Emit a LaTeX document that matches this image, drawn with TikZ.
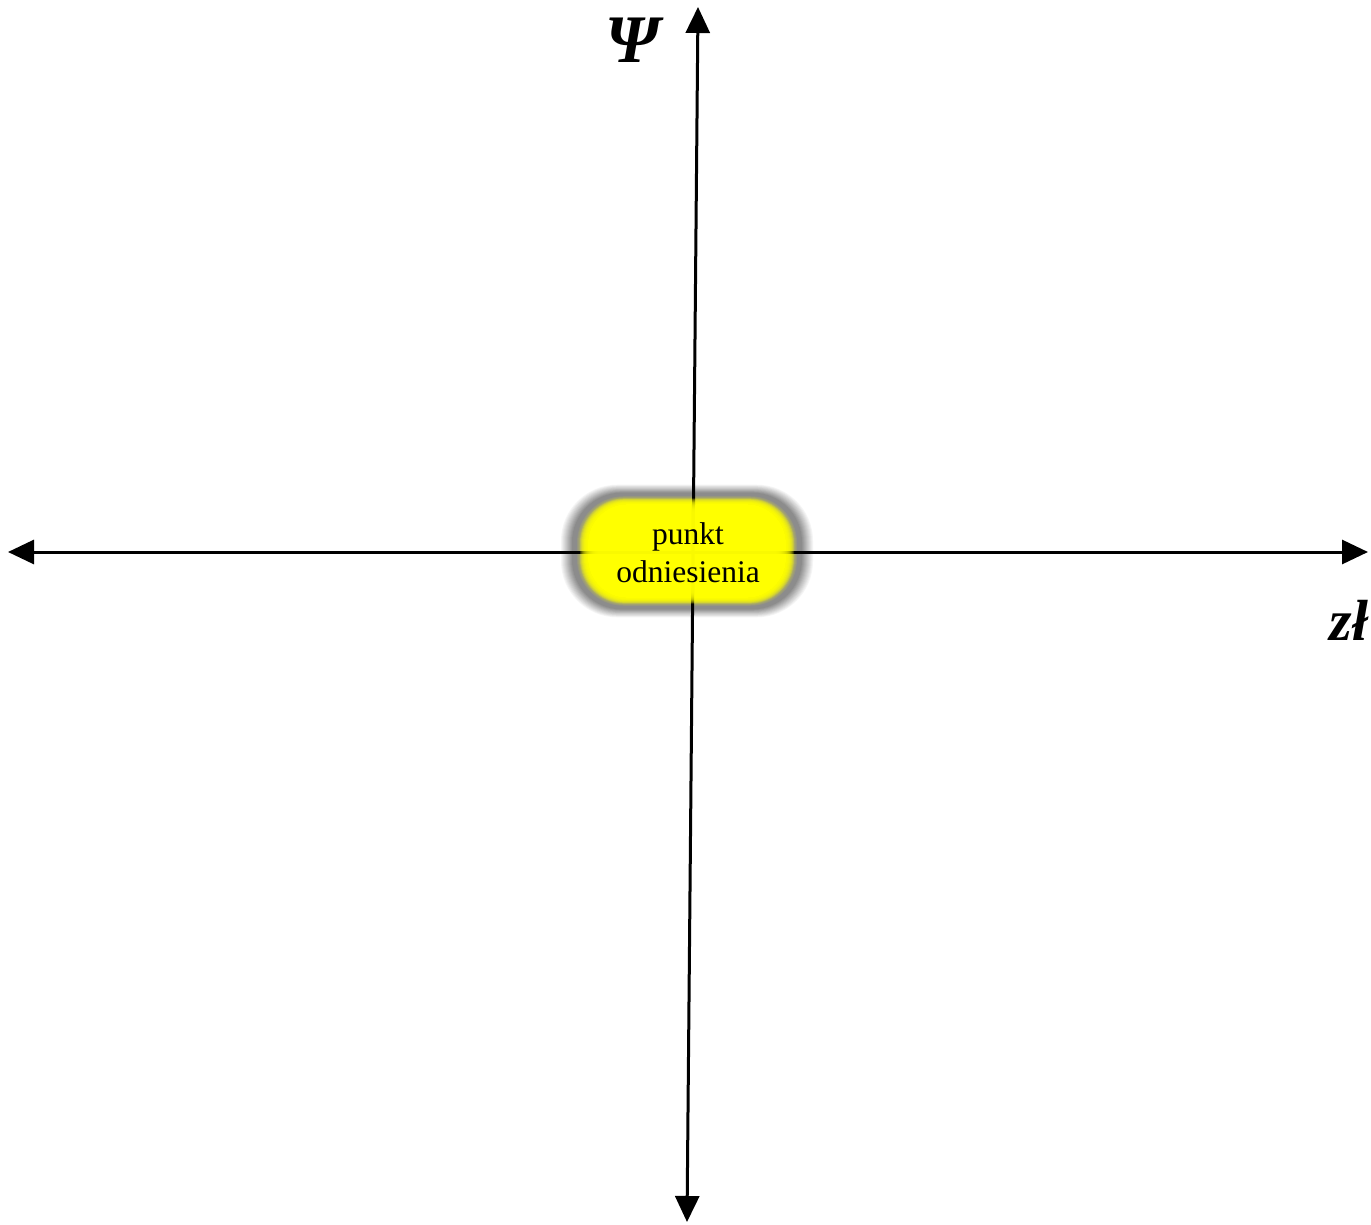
\documentclass[tikz,border=0pt]{standalone}
\usepackage{fontspec}
\setmainfont{Liberation Serif}
\usetikzlibrary{arrows.meta}
\definecolor{glowgray}{RGB}{140,140,140}
\definecolor{glowyel}{RGB}{255,255,0}
\tikzset{
  axis/.style={line width=3pt, {Triangle[length=26pt,width=24pt]}-{Triangle[length=26pt,width=24pt]}},
  axislabel/.style={font=\fontsize{58}{60}\selectfont\bfseries\itshape, inner sep=0pt},
  psilabel/.style={font=\fontsize{68}{70}\selectfont\bfseries\itshape, inner sep=0pt},
  reftext/.style={font=\fontsize{31.5}{38}\selectfont, align=center, inner sep=0pt}
}
\begin{document}
\begin{tikzpicture}[x=1pt,y=-1pt]
\useasboundingbox (0,0) rectangle (1371,1225);
% glow: outer gray band
\def\cx{687}\def\cy{551}\def\hw{127}\def\hh{67}
\foreach \d in {0,...,29}{
  \pgfmathsetmacro{\w}{\hw-\d}
  \pgfmathsetmacro{\h}{\hh-0.72*\d}
  \pgfmathsetmacro{\r}{max(0.85*\h,2)}
  \ifnum\d<13
    \pgfmathsetmacro{\t}{\d/12*100}
    \colorlet{lay}{glowgray!\t!white}
  \else\ifnum\d<17
    \colorlet{lay}{glowgray}
  \else
    \pgfmathsetmacro{\t}{(\d-16)/12*100}
    \colorlet{lay}{glowyel!\t!glowgray}
  \fi\fi
  \fill[lay, rounded corners=\r pt] (\cx-\w,\cy-\h) rectangle (\cx+\w,\cy+\h);
}
% axes
\coordinate (top) at (698,7);
\coordinate (bottom) at (687,1222);
\coordinate (left) at (8,552);
\coordinate (right) at (1368,552);
\draw[axis] (left) -- (right);
\draw[axis] (bottom) -- (top);
% yellow overlay fading the axes inside the blob
\foreach \d in {20,...,38}{
  \pgfmathsetmacro{\w}{\hw-\d}
  \pgfmathsetmacro{\h}{\hh-0.72*\d}
  \pgfmathsetmacro{\r}{max(0.85*\h,2)}
  \fill[glowyel, fill opacity=0.2, rounded corners=\r pt] (\cx-\w,\cy-\h) rectangle (\cx+\w,\cy+\h);
}
\node[reftext] (ref) at (688,553) {punkt\\odniesienia};
\node[psilabel] (psi) at (633,40) {Ψ};
\node[axislabel] (zl) at (1349,620) {zł};
\end{tikzpicture}
\end{document}
